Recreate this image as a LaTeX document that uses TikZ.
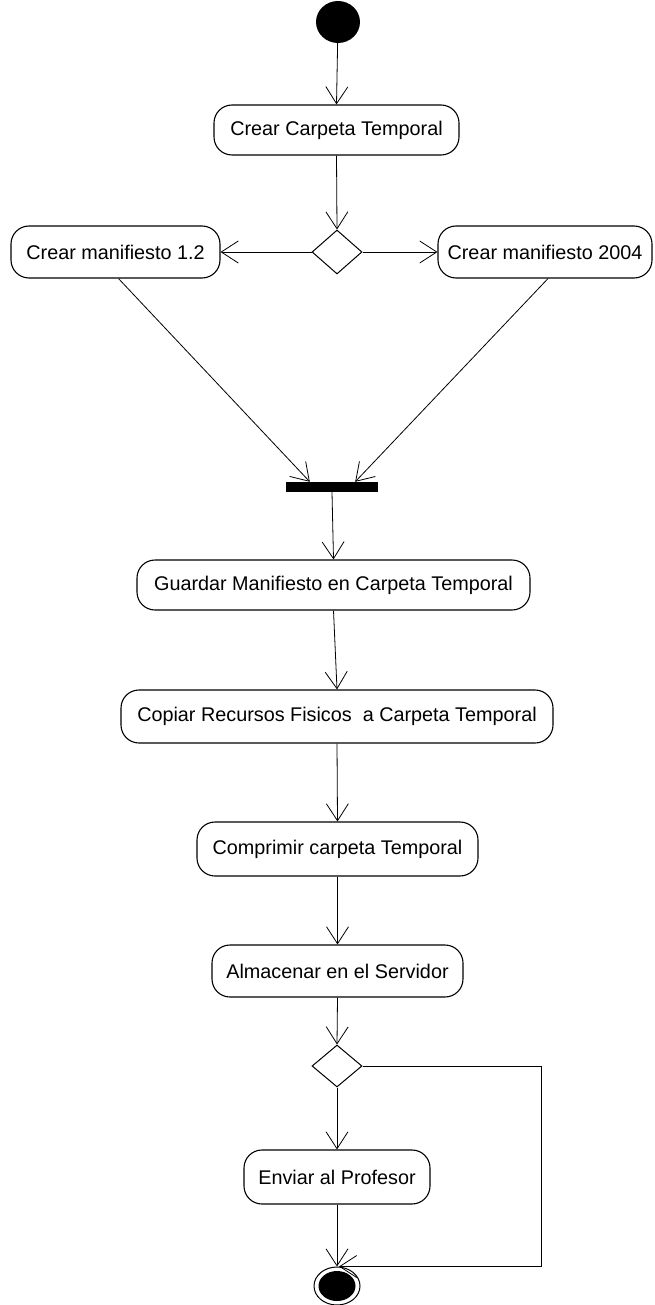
\documentclass[tikz,border=0pt]{standalone}
\usepackage{fontspec}
\setmainfont{Liberation Sans}
\usetikzlibrary{arrows.meta,shapes.geometric}
\begin{document}
\begin{tikzpicture}[x=1pt,y=-1pt,
  activity/.style={draw,line width=1.1pt,rounded corners=18pt,inner sep=0pt,
    font=\fontsize{19.8}{23}\selectfont},
  choice/.style={draw,line width=1pt,diamond,inner sep=0pt,minimum width=50pt,minimum height=44pt},
  flow/.style={line width=0.8pt,-{Straight Barb[length=17pt,width=22pt,line width=0.8pt]}},
  plain/.style={line width=0.8pt}]
\useasboundingbox (0,0) rectangle (654,1305);

% initial and final states
\node[ellipse,fill=black,minimum width=44pt,minimum height=42pt,inner sep=0pt] (start) at (338,22) {};
\node[ellipse,draw,line width=1pt,minimum width=46pt,minimum height=38pt,inner sep=0pt] (end) at (337,1286) {};
\fill[black] (end.center) ellipse [x radius=18.5pt,y radius=15pt];

% activities
\node[activity,minimum width=245pt,minimum height=50pt] (carpeta) at (336.5,130) {Crear Carpeta Temporal};
\node[choice] (d1) at (337,252) {};
\node[activity,minimum width=209pt,minimum height=52pt] (m12) at (115.5,252) {Crear manifiesto 1.2};
\node[activity,minimum width=214pt,minimum height=52pt] (m2004) at (545,252) {Crear manifiesto 2004};
\node[fill=black,minimum width=92pt,minimum height=10pt,inner sep=0pt] (fork) at (332,487) {};
\node[activity,minimum width=393pt,minimum height=50pt] (guardar) at (333.5,585) {Guardar Manifiesto en Carpeta Temporal};
\node[activity,minimum width=432pt,minimum height=53pt] (copiar) at (337,716.5) {Copiar Recursos Fisicos\ \ a Carpeta Temporal};
\node[activity,minimum width=281pt,minimum height=54pt] (comprimir) at (337.5,849) {Comprimir carpeta Temporal};
\node[activity,minimum width=251pt,minimum height=52pt] (almacenar) at (337.5,971) {Almacenar en el Servidor};
\node[choice,minimum height=42pt] (d2) at (337,1066) {};
\node[activity,minimum width=186pt,minimum height=54pt] (enviar) at (337,1177) {Enviar al Profesor};
\coordinate (loopc) at (541,1066);

% transitions
\draw[flow] (start) -- (carpeta.north);
\draw[flow] (carpeta.south) -- (d1.north);
\draw[flow] (d1.west) -- (m12.east);
\draw[flow] (d1.east) -- (m2004.east -| m2004.west);
\draw[flow] ([xshift=3pt]m12.south) -- ([xshift=24pt]fork.north west);
\draw[flow] ([xshift=3pt]m2004.south) -- ([xshift=-23pt]fork.north east);
\draw[flow] (fork.south) -- (guardar.north);
\draw[flow] (guardar.south) -- (copiar.north);
\draw[flow] (copiar.south) -- (comprimir.north);
\draw[flow] (comprimir.south) -- (almacenar.north);
\draw[flow] (almacenar.south) -- (d2.north);
\draw[flow] (d2.south) -- (enviar.north);
\draw[flow] (enviar.south) -- (end.north);
\draw[plain] (d2.east) -- (loopc);
\draw[flow] (loopc) -- (loopc |- end.north) -- ([xshift=2pt]end.north);
\end{tikzpicture}
\end{document}
